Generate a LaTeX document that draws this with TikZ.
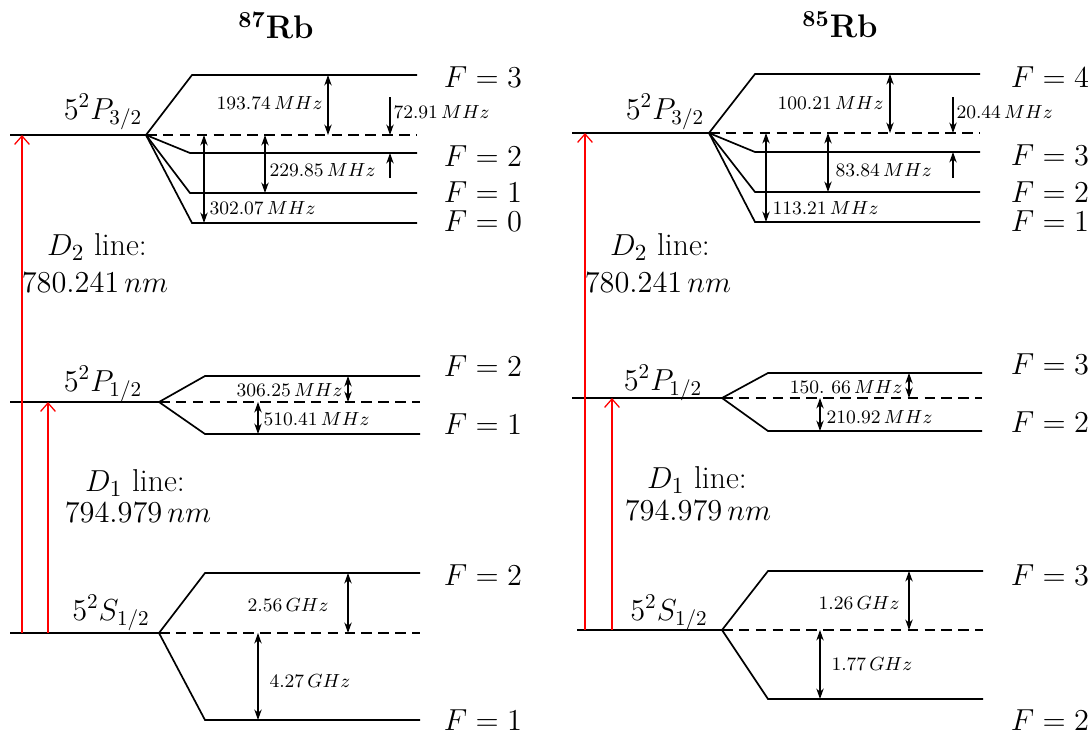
\documentclass[tikz,border=0pt]{standalone}
\usepackage{amsmath}
\usepackage{tikz}
\usetikzlibrary{arrows.meta}

\begin{document}
\begin{tikzpicture}[x=0.016667cm,y=-0.016667cm,
        level/.style={line width=0.8pt},
        mean/.style={line width=0.8pt,dash pattern=on 5pt off 3pt},
        gap/.style={line width=0.6pt,{Stealth[length=5pt,width=3.5pt]}-{Stealth[length=5pt,width=3.5pt]}},
        push/.style={line width=0.6pt,-{Stealth[length=5pt,width=3.5pt]}},
        pump/.style={red,line width=0.6pt,-{Straight Barb[length=4pt,width=7pt]}},
        fnum/.style={font=\fontsize{14}{16}\selectfont},
        term/.style={font=\fontsize{14}{17}\selectfont},
        freq/.style={font=\fontsize{9.5}{11}\selectfont,inner sep=1pt},
        wave/.style={font=\fontsize{15}{17}\selectfont,inner sep=1pt},
        title/.style={font=\fontsize{15.5}{19}\selectfont\bfseries}]
    \useasboundingbox (0,0) rectangle (1091,736);

    % ---- 87Rb ----
    \node[title] (t87) at (276,25) {\textsuperscript{87}Rb};

    % 5P3/2
    \coordinate (sa) at (146,135);
    \draw[level] (10,135) -- (sa);
    \draw[mean] (sa) -- (417,135);
    \draw[level] (sa) -- (192,75) -- (417,75);
    \draw[level] (sa) -- (190,153) -- (417,153);
    \draw[level] (sa) -- (190,193) -- (417,193);
    \draw[level] (sa) -- (192,223) -- (417,223);
    \node[term] (pa) at (103,112) {$5^2P_{3/2}$};
    \node[fnum] (fa3) at (483,77) {$F=3$};
    \node[fnum] (fa2) at (483,156) {$F=2$};
    \node[fnum] (fa1) at (483,192) {$F=1$};
    \node[fnum] (fa0) at (483,221) {$F=0$};
    \draw[gap] (328,75) -- (328,135);
    \node[freq,anchor=east] (ga1) at (325,103) {$193.74\,MHz$};
    \draw[push] (390,97) -- (390,135);
    \draw[push] (390,178) -- (390,153);
    \node[freq,anchor=west] (ga2) at (391,112) {$72.91\,MHz$};
    \draw[gap] (265,135) -- (265,193);
    \node[freq,anchor=west] (ga3) at (267,170) {$229.85\,MHz$};
    \draw[gap] (204,135) -- (204,223);
    \node[freq,anchor=west] (ga4) at (207,208) {$302.07\,MHz$};

    % 5P1/2
    \coordinate (sb) at (159,402);
    \draw[level] (10,402) -- (sb);
    \draw[mean] (sb) -- (420,402);
    \draw[level] (sb) -- (205,376) -- (420,376);
    \draw[level] (sb) -- (205,434) -- (420,434);
    \node[term] (pb) at (103,384) {$5^2P_{1/2}$};
    \node[fnum] (fb2) at (483,366) {$F=2$};
    \node[fnum] (fb1) at (483,424) {$F=1$};
    \draw[gap] (348,376) -- (348,402);
    \node[freq,anchor=east] (gb1) at (345,390) {$306.25\,MHz$};
    \draw[gap] (258,402) -- (258,434);
    \node[freq,anchor=west] (gb2) at (261,419) {$510.41\,MHz$};

    % 5S1/2
    \coordinate (sc) at (159,633);
    \draw[level] (10,633) -- (sc);
    \draw[mean] (sc) -- (420,633);
    \draw[level] (sc) -- (205,573) -- (420,573);
    \draw[level] (sc) -- (205,720) -- (420,720);
    \node[term] (pc) at (111,613) {$5^2S_{1/2}$};
    \node[fnum] (fc2) at (483,575) {$F=2$};
    \node[fnum] (fc1) at (483,720) {$F=1$};
    \draw[gap] (348,573) -- (348,633);
    \node[freq,anchor=east] (gc1) at (331,605) {$2.56\,GHz$};
    \draw[gap] (258,633) -- (258,720);
    \node[freq,anchor=west] (gc2) at (267,681) {$4.27\,GHz$};

    % D lines
    \draw[pump] (22,633) -- (22,135);
    \draw[pump] (48,633) -- (48,402);
    \node[wave] (da1) at (97,247) {$D_2$ line:};
    \node[wave] (da2) at (95,283) {$780.241\,nm$};
    \node[wave] (db1) at (135,483) {$D_1$ line:};
    \node[wave] (db2) at (138,513) {$794.979\,nm$};

    % ---- 85Rb ----
    \node[title] (t85) at (840,25) {\textsuperscript{85}Rb};

    % 5P3/2
    \coordinate (sd) at (709,133);
    \draw[level] (572,133) -- (sd);
    \draw[mean] (sd) -- (980,133);
    \draw[level] (sd) -- (755,74) -- (980,74);
    \draw[level] (sd) -- (755,152) -- (980,152);
    \draw[level] (sd) -- (755,192) -- (980,192);
    \draw[level] (sd) -- (755,222) -- (980,222);
    \node[term] (pd) at (665,112) {$5^2P_{3/2}$};
    \node[fnum] (fd4) at (1050,77) {$F=4$};
    \node[fnum] (fd3) at (1050,155) {$F=3$};
    \node[fnum] (fd2) at (1050,192) {$F=2$};
    \node[fnum] (fd1) at (1050,221) {$F=1$};
    \draw[gap] (890,74) -- (890,133);
    \node[freq,anchor=east] (gd1) at (886,103) {$100.21\,MHz$};
    \draw[push] (953,97) -- (953,133);
    \draw[push] (953,178) -- (953,152);
    \node[freq,anchor=west] (gd2) at (954,112) {$20.44\,MHz$};
    \draw[gap] (828,133) -- (828,192);
    \node[freq,anchor=west] (gd3) at (833,170) {$83.84\,MHz$};
    \draw[gap] (766,133) -- (766,222);
    \node[freq,anchor=west] (gd4) at (770,208) {$113.21\,MHz$};

    % 5P1/2
    \coordinate (se) at (722,398);
    \draw[level] (572,398) -- (se);
    \draw[mean] (se) -- (982,398);
    \draw[level] (se) -- (768,373) -- (982,373);
    \draw[level] (se) -- (768,431) -- (982,431);
    \node[term] (pe) at (663,383) {$5^2P_{1/2}$};
    \node[fnum] (fe3) at (1050,364) {$F=3$};
    \node[fnum] (fe2) at (1050,422) {$F=2$};
    \draw[gap] (909,373) -- (909,398);
    \node[freq,anchor=east] (ge1) at (905,387) {$150.\ 66\,MHz$};
    \draw[gap] (820,398) -- (820,431);
    \node[freq,anchor=west] (ge2) at (824,417) {$210.92\,MHz$};

    % 5S1/2
    \coordinate (sf) at (722,630);
    \draw[level] (577,630) -- (sf);
    \draw[mean] (sf) -- (983,630);
    \draw[level] (sf) -- (768,571) -- (983,571);
    \draw[level] (sf) -- (768,699) -- (983,699);
    \node[term] (pf) at (669,613) {$5^2S_{1/2}$};
    \node[fnum] (ff3) at (1050,575) {$F=3$};
    \node[fnum] (ff2) at (1050,720) {$F=2$};
    \draw[gap] (909,571) -- (909,630);
    \node[freq,anchor=east] (gf1) at (902,603) {$1.26\,GHz$};
    \draw[gap] (820,630) -- (820,699);
    \node[freq,anchor=west] (gf2) at (829,664) {$1.77\,GHz$};

    % D lines
    \draw[pump] (585,630) -- (585,133);
    \draw[pump] (612,630) -- (612,398);
    \node[wave] (dd1) at (660,247) {$D_2$ line:};
    \node[wave] (dd2) at (658,283) {$780.241\,nm$};
    \node[wave] (de1) at (697,480) {$D_1$ line:};
    \node[wave] (de2) at (698,511) {$794.979\,nm$};
\end{tikzpicture}
\end{document}
